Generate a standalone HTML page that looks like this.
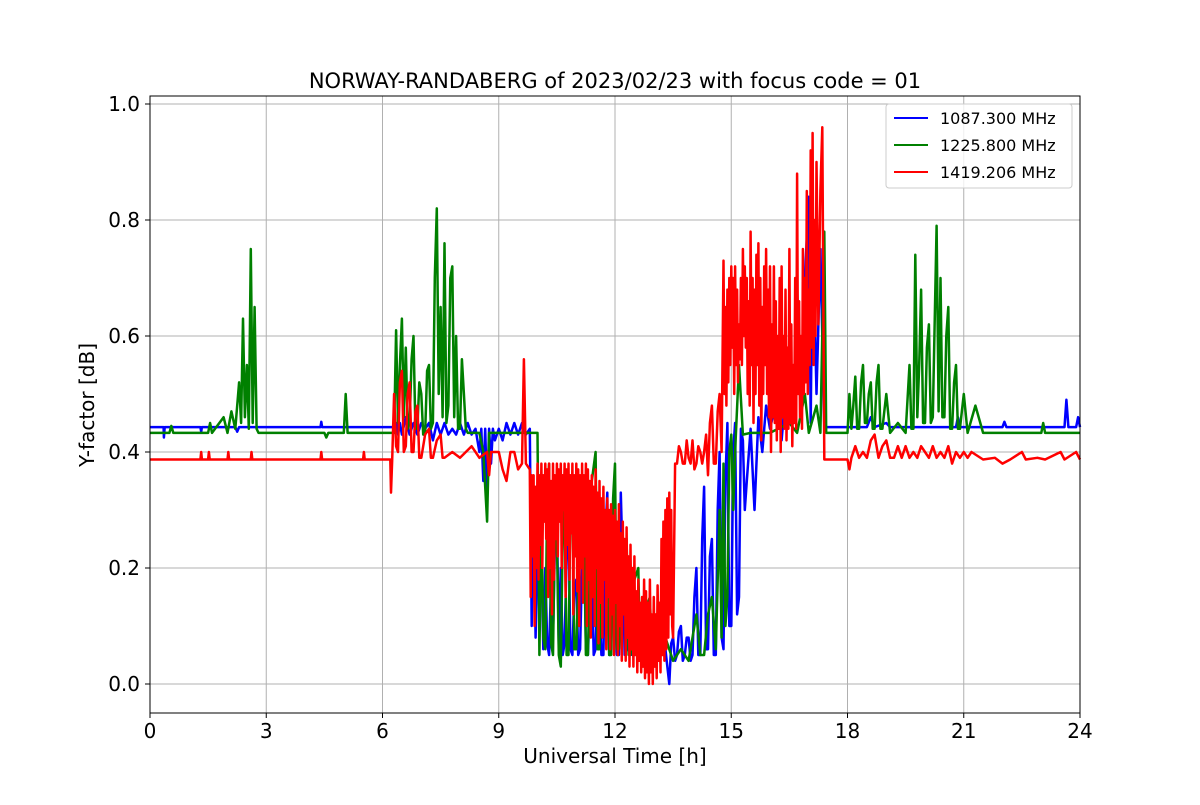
<!DOCTYPE html>
<html><head><meta charset="utf-8"><style>
body{margin:0;background:#fff}
svg text{font-family:"DejaVu Sans","Liberation Sans",sans-serif}
</style></head><body>
<svg id="chart" width="1200" height="800">
<rect x="0" y="0" width="1200" height="800" fill="#fff"/>
<g id="grid"></g>
<g id="series"></g>
<rect x="150" y="96" width="930" height="617" fill="none" stroke="#000" stroke-width="1"/>
<g id="axes"></g>
<text x="615" y="88" text-anchor="middle" font-size="21">NORWAY-RANDABERG of 2023/02/23 with focus code = 01</text>
<text x="615" y="763" text-anchor="middle" font-size="20">Universal Time [h]</text>
<text x="94" y="405" text-anchor="middle" font-size="20" transform="rotate(-90 94 405)">Y-factor [dB]</text>
<g>
<rect x="886" y="104" width="186" height="84" rx="3" fill="#fff" fill-opacity="0.8" stroke="#ccc"/>
<line x1="894" y1="118" x2="928" y2="118" stroke="blue" stroke-width="2"/>
<text x="940" y="124" font-size="16">1087.300 MHz</text>
<line x1="894" y1="145" x2="928" y2="145" stroke="green" stroke-width="2"/>
<text x="940" y="151" font-size="16">1225.800 MHz</text>
<line x1="894" y1="172" x2="928" y2="172" stroke="red" stroke-width="2"/>
<text x="940" y="178" font-size="16">1419.206 MHz</text>
</g>
</svg>
<script>
const xTicks=[0,3,6,9,12,15,18,21,24];
const yTicks=[0.0,0.2,0.4,0.6,0.8,1.0];
const blueData=[[0,0.443],[0.35,0.443],[0.36,0.425],[0.38,0.443],[1.3,0.443],[1.32,0.435],[1.34,0.443],[2.2,0.443],[2.25,0.435],[2.3,0.443],[4.4,0.443],[4.42,0.452],[4.44,0.443],[6.3,0.443],[6.35,0.45],[6.4,0.43],[6.45,0.45],[6.5,0.43],[6.6,0.46],[6.7,0.43],[6.8,0.45],[6.9,0.43],[7.0,0.45],[7.1,0.44],[7.2,0.45],[7.3,0.42],[7.4,0.45],[7.5,0.43],[7.6,0.45],[7.7,0.43],[7.8,0.44],[7.9,0.43],[8.0,0.45],[8.1,0.43],[8.2,0.45],[8.3,0.43],[8.4,0.44],[8.5,0.40],[8.55,0.44],[8.6,0.35],[8.65,0.44],[8.7,0.32],[8.75,0.44],[8.8,0.38],[8.85,0.44],[8.9,0.42],[9.0,0.44],[9.1,0.42],[9.2,0.45],[9.3,0.43],[9.4,0.45],[9.5,0.43],[9.6,0.45],[9.7,0.43],[9.8,0.44],[9.85,0.10],[9.9,0.30],[9.95,0.08],[10.0,0.25],[10.05,0.12],[10.1,0.22],[10.15,0.06],[10.2,0.20],[10.25,0.07],[10.3,0.05],[10.35,0.18],[10.4,0.08],[10.45,0.24],[10.5,0.30],[10.55,0.06],[10.6,0.20],[10.65,0.05],[10.7,0.07],[10.75,0.22],[10.8,0.28],[10.85,0.06],[10.9,0.05],[10.95,0.16],[11.0,0.18],[11.05,0.05],[11.1,0.06],[11.15,0.21],[11.2,0.25],[11.25,0.06],[11.3,0.05],[11.35,0.14],[11.4,0.20],[11.45,0.05],[11.5,0.06],[11.55,0.18],[11.6,0.15],[11.65,0.05],[11.7,0.05],[11.75,0.25],[11.8,0.33],[11.85,0.05],[11.9,0.06],[11.95,0.22],[12.0,0.12],[12.05,0.05],[12.1,0.05],[12.15,0.33],[12.2,0.20],[12.25,0.05],[12.3,0.06],[12.35,0.15],[12.4,0.15],[12.45,0.05],[12.5,0.05],[12.55,0.14],[12.6,0.12],[12.65,0.05],[12.7,0.04],[12.75,0.10],[12.8,0.10],[12.85,0.04],[12.9,0.05],[13.0,0.08],[13.1,0.04],[13.2,0.10],[13.3,0.06],[13.4,0.0],[13.45,0.07],[13.5,0.08],[13.55,0.04],[13.6,0.05],[13.65,0.09],[13.7,0.10],[13.75,0.04],[13.8,0.05],[13.85,0.08],[13.9,0.08],[13.95,0.04],[14.0,0.05],[14.05,0.15],[14.1,0.20],[14.15,0.05],[14.2,0.05],[14.25,0.25],[14.3,0.34],[14.35,0.06],[14.4,0.06],[14.45,0.22],[14.5,0.25],[14.55,0.05],[14.6,0.05],[14.65,0.30],[14.7,0.40],[14.75,0.08],[14.8,0.06],[14.85,0.35],[14.9,0.45],[14.95,0.10],[15.0,0.10],[15.05,0.40],[15.1,0.45],[15.15,0.12],[15.2,0.15],[15.25,0.44],[15.3,0.42],[15.35,0.30],[15.4,0.35],[15.5,0.44],[15.6,0.30],[15.7,0.46],[15.8,0.40],[15.9,0.48],[16.0,0.44],[16.1,0.47],[16.2,0.50],[16.3,0.42],[16.4,0.50],[16.5,0.55],[16.6,0.45],[16.7,0.68],[16.8,0.48],[16.9,0.70],[17.0,0.84],[17.05,0.45],[17.1,0.80],[17.2,0.50],[17.3,0.75],[17.4,0.443],[18.5,0.443],[18.6,0.46],[18.7,0.443],[19.0,0.45],[19.1,0.443],[20.8,0.443],[20.85,0.46],[20.9,0.443],[22.0,0.443],[22.05,0.452],[22.1,0.443],[23.6,0.443],[23.65,0.49],[23.7,0.443],[23.9,0.443],[23.95,0.46],[24,0.443]];
const greenData=[[0,0.433],[0.5,0.433],[0.55,0.445],[0.6,0.433],[1.5,0.433],[1.55,0.45],[1.6,0.433],[1.9,0.46],[2.0,0.433],[2.1,0.47],[2.2,0.44],[2.3,0.52],[2.35,0.45],[2.4,0.63],[2.45,0.46],[2.5,0.55],[2.55,0.44],[2.6,0.75],[2.65,0.45],[2.7,0.65],[2.75,0.44],[2.8,0.433],[3.0,0.433],[4.5,0.433],[4.55,0.425],[4.6,0.433],[5.0,0.433],[5.05,0.50],[5.1,0.433],[6.3,0.433],[6.35,0.61],[6.4,0.45],[6.45,0.55],[6.5,0.63],[6.55,0.46],[6.6,0.58],[6.65,0.44],[6.7,0.45],[6.75,0.56],[6.8,0.60],[6.85,0.44],[6.9,0.44],[6.95,0.52],[7.0,0.50],[7.05,0.43],[7.1,0.43],[7.15,0.54],[7.2,0.55],[7.25,0.44],[7.3,0.45],[7.35,0.70],[7.4,0.82],[7.45,0.50],[7.5,0.65],[7.55,0.46],[7.6,0.76],[7.65,0.45],[7.7,0.48],[7.75,0.70],[7.8,0.72],[7.85,0.46],[7.9,0.60],[7.95,0.44],[8.0,0.44],[8.05,0.56],[8.1,0.50],[8.15,0.44],[8.2,0.433],[8.5,0.433],[8.6,0.40],[8.7,0.28],[8.75,0.433],[9.0,0.433],[9.5,0.433],[9.8,0.433],[10.0,0.433],[10.05,0.05],[10.1,0.30],[10.15,0.08],[10.2,0.06],[10.25,0.32],[10.3,0.38],[10.35,0.07],[10.4,0.05],[10.45,0.28],[10.5,0.25],[10.55,0.05],[10.6,0.03],[10.65,0.26],[10.7,0.30],[10.75,0.05],[10.8,0.05],[10.85,0.30],[10.9,0.35],[10.95,0.06],[11.0,0.06],[11.1,0.28],[11.2,0.30],[11.25,0.05],[11.3,0.05],[11.4,0.35],[11.5,0.40],[11.55,0.06],[11.6,0.06],[11.7,0.30],[11.8,0.25],[11.85,0.05],[11.9,0.05],[11.95,0.32],[12.0,0.38],[12.05,0.06],[12.1,0.06],[12.2,0.22],[12.3,0.25],[12.35,0.05],[12.4,0.05],[12.5,0.18],[12.6,0.20],[12.65,0.04],[12.7,0.04],[12.8,0.13],[12.9,0.15],[12.95,0.05],[13.0,0.05],[13.3,0.08],[13.5,0.04],[13.7,0.06],[13.9,0.04],[14.0,0.08],[14.1,0.12],[14.2,0.05],[14.3,0.05],[14.4,0.12],[14.5,0.15],[14.6,0.06],[14.7,0.30],[14.75,0.08],[14.8,0.38],[14.85,0.10],[14.9,0.15],[14.95,0.40],[15.0,0.43],[15.05,0.30],[15.1,0.40],[15.2,0.55],[15.3,0.43],[15.5,0.433],[16.0,0.433],[16.5,0.45],[16.7,0.433],[16.9,0.50],[17.0,0.433],[17.2,0.48],[17.3,0.433],[17.4,0.78],[17.45,0.433],[18.0,0.433],[18.05,0.50],[18.1,0.44],[18.15,0.48],[18.2,0.53],[18.25,0.44],[18.3,0.44],[18.35,0.52],[18.4,0.55],[18.45,0.45],[18.5,0.45],[18.55,0.50],[18.6,0.52],[18.65,0.44],[18.7,0.44],[18.75,0.52],[18.8,0.55],[18.85,0.44],[18.9,0.44],[18.95,0.47],[19.0,0.50],[19.1,0.433],[19.3,0.45],[19.5,0.433],[19.6,0.55],[19.65,0.44],[19.7,0.44],[19.75,0.74],[19.8,0.46],[19.85,0.55],[19.9,0.68],[19.95,0.45],[20.0,0.45],[20.05,0.58],[20.1,0.62],[20.15,0.45],[20.2,0.46],[20.3,0.79],[20.35,0.47],[20.4,0.70],[20.45,0.46],[20.5,0.46],[20.55,0.60],[20.6,0.65],[20.65,0.44],[20.7,0.44],[20.75,0.52],[20.8,0.55],[20.85,0.44],[20.9,0.44],[21.0,0.50],[21.1,0.433],[21.3,0.48],[21.5,0.433],[23.0,0.433],[23.05,0.45],[23.1,0.433],[24,0.433]];
const redData=[[0,0.387],[1.3,0.387],[1.32,0.40],[1.34,0.387],[1.5,0.387],[1.52,0.40],[1.54,0.387],[2.0,0.387],[2.02,0.40],[2.04,0.387],[2.6,0.387],[2.62,0.40],[2.64,0.387],[4.4,0.387],[4.42,0.40],[4.44,0.387],[5.5,0.387],[5.52,0.40],[5.54,0.387],[6.2,0.387],[6.22,0.33],[6.25,0.387],[6.3,0.50],[6.35,0.41],[6.4,0.40],[6.45,0.52],[6.5,0.54],[6.55,0.40],[6.6,0.41],[6.65,0.50],[6.7,0.52],[6.75,0.40],[6.8,0.40],[6.85,0.47],[6.9,0.48],[6.95,0.39],[7.0,0.39],[7.1,0.43],[7.2,0.44],[7.25,0.39],[7.3,0.39],[7.4,0.42],[7.5,0.43],[7.55,0.39],[7.6,0.39],[7.8,0.40],[8.0,0.39],[8.3,0.41],[8.5,0.39],[8.7,0.40],[8.75,0.36],[8.8,0.40],[9.0,0.40],[9.1,0.37],[9.2,0.35],[9.3,0.40],[9.4,0.40],[9.5,0.37],[9.6,0.38],[9.65,0.56],[9.7,0.38],[9.8,0.37],[9.825,0.15],[9.85,0.36],[9.875,0.22],[9.9,0.36],[9.925,0.10],[9.95,0.34],[9.975,0.20],[10.0,0.38],[10.025,0.18],[10.05,0.36],[10.075,0.24],[10.1,0.38],[10.125,0.20],[10.15,0.36],[10.175,0.28],[10.2,0.38],[10.225,0.25],[10.25,0.37],[10.275,0.15],[10.3,0.38],[10.325,0.20],[10.35,0.35],[10.375,0.12],[10.4,0.38],[10.425,0.18],[10.45,0.36],[10.475,0.25],[10.5,0.38],[10.525,0.22],[10.55,0.37],[10.575,0.28],[10.6,0.38],[10.625,0.20],[10.65,0.36],[10.675,0.30],[10.7,0.38],[10.725,0.15],[10.75,0.37],[10.775,0.24],[10.8,0.38],[10.825,0.18],[10.85,0.36],[10.875,0.26],[10.9,0.38],[10.925,0.12],[10.95,0.36],[10.975,0.22],[11.0,0.38],[11.025,0.16],[11.05,0.37],[11.075,0.10],[11.1,0.36],[11.125,0.20],[11.15,0.38],[11.175,0.14],[11.2,0.36],[11.225,0.22],[11.25,0.38],[11.275,0.10],[11.3,0.37],[11.325,0.18],[11.35,0.35],[11.375,0.08],[11.4,0.36],[11.425,0.15],[11.45,0.34],[11.475,0.10],[11.5,0.37],[11.525,0.20],[11.55,0.33],[11.575,0.07],[11.6,0.35],[11.625,0.14],[11.65,0.32],[11.675,0.08],[11.7,0.34],[11.725,0.18],[11.75,0.30],[11.775,0.06],[11.8,0.32],[11.825,0.15],[11.85,0.30],[11.875,0.06],[11.9,0.31],[11.925,0.12],[11.95,0.29],[11.975,0.05],[12.0,0.30],[12.025,0.14],[12.05,0.28],[12.075,0.05],[12.1,0.31],[12.125,0.10],[12.15,0.26],[12.175,0.04],[12.2,0.28],[12.225,0.12],[12.25,0.25],[12.275,0.04],[12.3,0.27],[12.325,0.08],[12.35,0.22],[12.375,0.03],[12.4,0.24],[12.425,0.06],[12.45,0.20],[12.475,0.03],[12.5,0.22],[12.525,0.05],[12.55,0.16],[12.575,0.02],[12.6,0.18],[12.625,0.04],[12.65,0.14],[12.675,0.02],[12.7,0.15],[12.725,0.03],[12.75,0.18],[12.775,0.01],[12.8,0.16],[12.825,0.02],[12.85,0.14],[12.875,0.0],[12.9,0.18],[12.925,0.02],[12.95,0.12],[12.975,0.0],[13.0,0.15],[13.025,0.03],[13.05,0.12],[13.075,0.01],[13.1,0.17],[13.125,0.04],[13.15,0.14],[13.175,0.02],[13.2,0.25],[13.225,0.05],[13.25,0.28],[13.275,0.04],[13.3,0.30],[13.325,0.06],[13.35,0.32],[13.375,0.08],[13.4,0.33],[13.425,0.12],[13.45,0.30],[13.475,0.10],[13.5,0.08],[13.55,0.38],[13.6,0.38],[13.65,0.41],[13.7,0.40],[13.75,0.38],[13.8,0.38],[13.85,0.42],[13.9,0.39],[13.95,0.38],[14.0,0.42],[14.05,0.37],[14.1,0.38],[14.15,0.41],[14.2,0.40],[14.25,0.38],[14.3,0.40],[14.35,0.43],[14.4,0.36],[14.45,0.45],[14.5,0.48],[14.55,0.38],[14.6,0.38],[14.65,0.47],[14.7,0.50],[14.75,0.40],[14.8,0.73],[14.825,0.50],[14.85,0.65],[14.875,0.48],[14.9,0.68],[14.925,0.52],[14.95,0.70],[14.975,0.55],[15.0,0.72],[15.025,0.58],[15.05,0.70],[15.075,0.50],[15.1,0.72],[15.125,0.55],[15.15,0.68],[15.175,0.52],[15.2,0.62],[15.225,0.56],[15.25,0.70],[15.275,0.55],[15.3,0.75],[15.325,0.60],[15.35,0.72],[15.375,0.58],[15.4,0.70],[15.425,0.50],[15.45,0.66],[15.475,0.48],[15.5,0.78],[15.525,0.55],[15.55,0.70],[15.575,0.45],[15.6,0.68],[15.625,0.50],[15.65,0.74],[15.675,0.55],[15.7,0.76],[15.725,0.48],[15.75,0.70],[15.775,0.42],[15.8,0.65],[15.825,0.50],[15.85,0.72],[15.875,0.55],[15.9,0.75],[15.925,0.50],[15.95,0.68],[15.975,0.46],[16.0,0.72],[16.025,0.40],[16.05,0.62],[16.075,0.46],[16.1,0.72],[16.125,0.45],[16.15,0.66],[16.175,0.42],[16.2,0.60],[16.225,0.44],[16.25,0.70],[16.275,0.40],[16.3,0.72],[16.325,0.46],[16.35,0.60],[16.375,0.44],[16.4,0.68],[16.425,0.42],[16.45,0.58],[16.475,0.44],[16.5,0.75],[16.525,0.45],[16.55,0.62],[16.575,0.41],[16.6,0.55],[16.625,0.45],[16.65,0.70],[16.675,0.44],[16.7,0.88],[16.725,0.50],[16.75,0.66],[16.775,0.46],[16.8,0.60],[16.825,0.44],[16.85,0.75],[16.875,0.50],[16.9,0.70],[16.925,0.52],[16.95,0.85],[16.975,0.50],[17.0,0.68],[17.025,0.55],[17.05,0.92],[17.075,0.58],[17.1,0.95],[17.125,0.55],[17.15,0.80],[17.175,0.60],[17.2,0.90],[17.25,0.62],[17.3,0.85],[17.35,0.96],[17.4,0.387],[18.0,0.387],[18.05,0.37],[18.1,0.39],[18.2,0.41],[18.3,0.39],[18.4,0.40],[18.5,0.39],[18.6,0.42],[18.7,0.43],[18.8,0.39],[18.9,0.41],[19.0,0.42],[19.1,0.39],[19.2,0.39],[19.3,0.41],[19.4,0.39],[19.5,0.41],[19.6,0.39],[19.7,0.40],[19.8,0.39],[19.9,0.41],[20.0,0.40],[20.1,0.39],[20.2,0.41],[20.3,0.39],[20.4,0.40],[20.5,0.39],[20.6,0.41],[20.7,0.38],[20.8,0.40],[20.9,0.39],[21.0,0.40],[21.1,0.39],[21.2,0.40],[21.5,0.387],[21.8,0.39],[22.0,0.38],[22.2,0.387],[22.5,0.40],[22.6,0.387],[22.9,0.39],[23.1,0.387],[23.5,0.40],[23.6,0.387],[23.9,0.40],[24,0.387]];
const NS='http://www.w3.org/2000/svg';
function xs(t){return 150+t/24*930;}
function ys(v){return 684-v*580;}
const grid=document.getElementById('grid'),axes=document.getElementById('axes'),ser=document.getElementById('series');
xTicks.forEach(t=>{
 const l=document.createElementNS(NS,'line');l.setAttribute('x1',xs(t));l.setAttribute('x2',xs(t));l.setAttribute('y1',96);l.setAttribute('y2',713);l.setAttribute('stroke','#b0b0b0');
 
 
 grid.appendChild(l);
 const k=document.createElementNS(NS,'line');k.setAttribute('x1',xs(t));k.setAttribute('x2',xs(t));k.setAttribute('y1',713);k.setAttribute('y2',718);k.setAttribute('stroke','#000');axes.appendChild(k);
 const tx=document.createElementNS(NS,'text');tx.setAttribute('x',xs(t));tx.setAttribute('y',738);tx.setAttribute('text-anchor','middle');tx.setAttribute('font-size','20');tx.textContent=t;
 
 
 axes.appendChild(tx);
});
yTicks.forEach(v=>{
 const l=document.createElementNS(NS,'line');l.setAttribute('x1',150);l.setAttribute('x2',1080);l.setAttribute('y1',ys(v));l.setAttribute('y2',ys(v));l.setAttribute('stroke','#b0b0b0');
 
 
 grid.appendChild(l);
 const k=document.createElementNS(NS,'line');k.setAttribute('x1',145);k.setAttribute('x2',150);k.setAttribute('y1',ys(v));k.setAttribute('y2',ys(v));k.setAttribute('stroke','#000');axes.appendChild(k);
 const tx=document.createElementNS(NS,'text');tx.setAttribute('x',140);tx.setAttribute('y',ys(v)+7);tx.setAttribute('text-anchor','end');tx.setAttribute('font-size','20');tx.textContent=v.toFixed(1);
 
 
 axes.appendChild(tx);
});
[[blueData,'blue','series-1087'],[greenData,'green','series-1225'],[redData,'red','series-1419']].forEach(([d,c,n])=>{
 const p=document.createElementNS(NS,'polyline');
 p.setAttribute('points',d.map(q=>xs(q[0]).toFixed(1)+','+ys(q[1]).toFixed(1)).join(' '));
 p.setAttribute('fill','none');p.setAttribute('stroke',c);p.setAttribute('stroke-width','2.5');p.setAttribute('stroke-linejoin','round');
 
 
 ser.appendChild(p);
});
</script>
</body></html>
